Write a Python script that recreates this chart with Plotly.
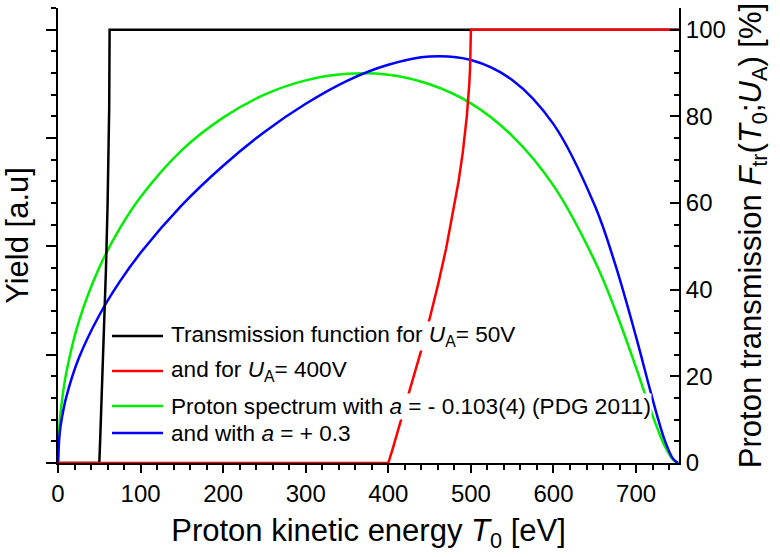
import plotly.graph_objects as go

# Proton kinetic energy grid [eV] and spectrum values (yield, scaled to the % axis)
t_spec = [0, 2, 5, 10, 25, 50, 75, 100, 150, 200, 250, 300, 350, 400, 450,
          500, 550, 600, 650, 675, 700, 715, 725, 735, 745, 751]
spec_pdg = [0, 9.3, 14.7, 20.8, 32.5, 45.1, 54.2, 61.4, 72.2, 79.7, 85.0, 88.3,
            89.8, 89.6, 87.4, 83.0, 75.5, 64.0, 46.6, 35.2, 22.0, 13.6, 8.4,
            3.8, 0.7, 0]
spec_plus = [0, 6.8, 10.7, 15.2, 24.1, 34.1, 41.9, 48.5, 59.5, 68.6, 76.4,
             82.9, 88.2, 91.9, 93.8, 93.0, 88.4, 78.2, 59.4, 45.7, 29.1, 18.3,
             11.3, 5.1, 0.9, 0]

# Transmission function for U_A = 50 V
t_tr50 = [0, 50, 51, 52, 54, 56, 58, 60, 61, 62, 62.5, 752]
tr50 = [0, 0, 5.0, 10.1, 20.7, 31.9, 44.3, 59.2, 68.6, 82.0, 100, 100]

# Transmission function for U_A = 400 V
t_tr400 = [0, 400, 405, 410, 420, 430, 440, 450, 460, 470, 480, 485, 490,
           495, 498, 499, 500, 752]
tr400 = [0, 0, 3.1, 6.3, 12.7, 19.3, 26.1, 33.3, 41.0, 49.5, 59.2, 64.9,
         71.4, 79.9, 87.3, 91.1, 100, 100]

legend_rows = [
    ("Transmission function for <i>U</i><sub>A</sub>= 50V", "#000000"),
    ("and for <i>U</i><sub>A</sub>= 400V", "#ff0000"),
    ("Proton spectrum with <i>a</i> = - 0.103(4) (PDG 2011)", "#00ee00"),
    ("and with <i>a</i> = + 0.3", "#0000ff"),
]

FONT = "Liberation Sans, Arial, sans-serif"
LW = 2.5

fig = go.Figure()
fig.add_trace(go.Scatter(x=t_spec, y=spec_pdg, mode="lines", line_shape="spline",
                         line=dict(color="#00ee00", width=LW)))
fig.add_trace(go.Scatter(x=t_spec, y=spec_plus, mode="lines", line_shape="spline",
                         line=dict(color="#0000ff", width=LW)))
fig.add_trace(go.Scatter(x=t_tr50, y=tr50, mode="lines", yaxis="y2",
                         line=dict(color="#000000", width=LW)))
fig.add_trace(go.Scatter(x=t_tr400, y=tr400, mode="lines", yaxis="y2",
                         line=dict(color="#ff0000", width=LW)))

# hand-built legend: sample line + text box with white background
row_y = [336, 371, 406, 433]
plot_l, plot_r, plot_t, plot_b = 58, 679, 8, 463


def px_to_paper_x(px):
    return (px - plot_l) / (plot_r - plot_l)


def px_to_paper_y(py):
    return (plot_b - py) / (plot_b - plot_t)


shapes = []
annotations = []
for (text, color), py in zip(legend_rows, row_y):
    yp = px_to_paper_y(py)
    shapes.append(dict(type="line", xref="paper", yref="paper",
                       x0=px_to_paper_x(112), x1=px_to_paper_x(163), y0=yp, y1=yp,
                       line=dict(color=color, width=LW)))
    annotations.append(dict(text=text, xref="paper", yref="paper",
                            x=px_to_paper_x(170), y=yp, xanchor="left",
                            yanchor="middle", showarrow=False, bgcolor="white",
                            borderpad=0, font=dict(size=22.6, color="black")))

axis_common = dict(showline=True, linecolor="black", linewidth=2, showgrid=False,
                   zeroline=False, tickcolor="black", tickwidth=2)

fig.update_layout(
    width=780, height=557,
    margin=dict(l=plot_l, r=780 - plot_r, t=plot_t, b=557 - plot_b),
    paper_bgcolor="white", plot_bgcolor="white",
    showlegend=False,
    font=dict(family=FONT, color="black", size=24),
    xaxis=dict(range=[0, 752], dtick=100, tick0=0, ticks="outside", ticklen=8,
               minor=dict(dtick=20, ticks="outside", ticklen=5, tickwidth=2,
                          tickcolor="black"),
               tickfont=dict(size=24),
               title=dict(text="Proton kinetic energy <i>T</i><sub>0</sub> [eV]",
                          font=dict(size=31), standoff=14),
               **axis_common),
    xaxis3=dict(range=[0, 752], overlaying="x", side="top", anchor="y",
                dtick=100, tick0=0, ticks="inside", ticklen=8,
                showticklabels=False,
                minor=dict(dtick=20, ticks="inside", ticklen=5, tickwidth=2,
                           tickcolor="black"),
                **axis_common),
    yaxis=dict(range=[0, 105], dtick=25, tick0=0, ticks="outside", ticklen=10,
               showticklabels=False,
               minor=dict(dtick=5, ticks="outside", ticklen=5, tickwidth=2,
                          tickcolor="black"),
               title=dict(text="Yield [a.u]", font=dict(size=31), standoff=12),
               **axis_common),
    yaxis2=dict(range=[0, 105], overlaying="y", side="right", anchor="x",
                dtick=20, tick0=0, ticks="inside", ticklen=9,
                minor=dict(dtick=5, ticks="inside", ticklen=5, tickwidth=2,
                           tickcolor="black"),
                tickfont=dict(size=24),
                title=dict(text="Proton transmission <i>F</i><sub>tr</sub>(<i>T</i><sub>0</sub>;<i>U</i><sub>A</sub>) [%]",
                           font=dict(size=31), standoff=14),
                **axis_common),
    shapes=shapes,
    annotations=annotations,
)

fig.write_html("out.html")
